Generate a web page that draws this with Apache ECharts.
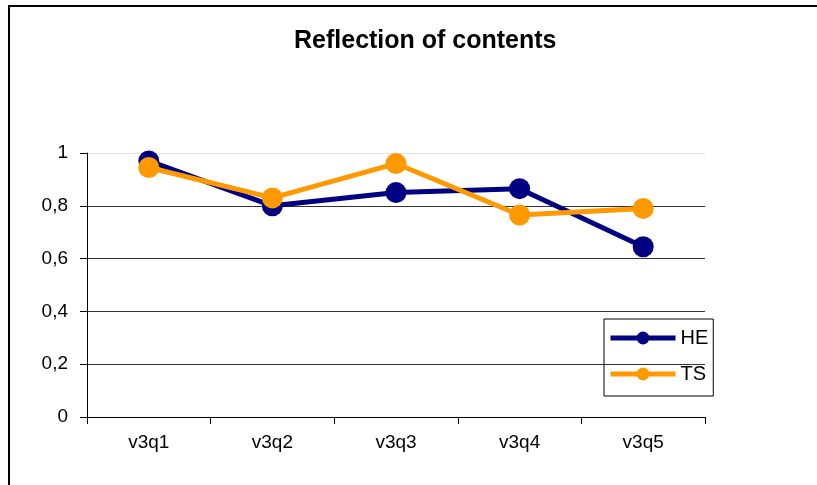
<!DOCTYPE html>
<html>
<head>
<meta charset="utf-8">
<script src="https://cdn.jsdelivr.net/npm/echarts@6/dist/echarts.min.js"></script>
<style>
  html, body { margin: 0; padding: 0; background: #fff; }
  #wrap { position: relative; width: 817px; height: 485px; overflow: hidden; }
  #main { width: 817px; height: 485px; }
  #frame {
    position: absolute; left: 8px; top: 5px; width: 820px; height: 490px;
    border-left: 2px solid #000; border-top: 2px solid #000; pointer-events: none;
  }
</style>
</head>
<body>
<div id="wrap">
  <div id="main"></div>
  <div id="frame"></div>
</div>
<script>
// categories and values
var categories = ['v3q1', 'v3q2', 'v3q3', 'v3q4', 'v3q5'];
var heValues = [0.97, 0.80, 0.85, 0.865, 0.645];
var tsValues = [0.945, 0.83, 0.96, 0.765, 0.79];
var titleText = 'Reflection of contents';

var FONT = "'Liberation Sans', Arial, sans-serif";
var colors = ['#000080', '#FF9900'];

var chartDom = document.getElementById('main');
var myChart = echarts.init(chartDom);

var option = {
    color: colors,
    animation: false,
    title: {
        text: titleText,
        left: 289,
        top: 24,
        textStyle: { fontFamily: FONT, fontSize: 25, fontWeight: 'bold', color: '#000' }
    },
    grid: { left: 87, right: 112, top: 153, bottom: 68 },
    legend: {
        orient: 'vertical',
        left: 604,
        top: 319,
        padding: [9, 5, 12, 4],
        itemWidth: 65,
        itemHeight: 16,
        itemGap: 16,
        borderColor: '#000',
        borderWidth: 1,
        lineStyle: { width: 5 },
        textStyle: { fontFamily: FONT, fontSize: 20, color: '#000' },
        data: ['HE', 'TS']
    },
    xAxis: {
        type: 'category',
        data: categories,
        boundaryGap: true,
        axisLine: { lineStyle: { color: '#000', width: 1 } },
        axisTick: { show: true, length: 7, lineStyle: { color: '#000' } },
        axisLabel: { fontFamily: FONT, fontSize: 19, color: '#000', margin: 16 },
        splitLine: { show: false }
    },
    yAxis: {
        type: 'value',
        min: 0,
        max: 1,
        interval: 0.2,
        axisLine: { show: true, lineStyle: { color: '#000', width: 1 } },
        axisTick: { show: true, length: 7, lineStyle: { color: '#000' } },
        axisLabel: {
            fontFamily: FONT, fontSize: 19, color: '#000', margin: 19,
            formatter: function (v) { return String(Math.round(v * 10) / 10).replace('.', ','); }
        },
        splitLine: {
            show: true,
            lineStyle: { color: ['#333', '#333', '#333', '#333', '#333', '#e4e4e4'], width: 1 }
        }
    },
    series: [
        {
            name: 'HE',
            type: 'line',
            data: heValues,
            symbol: 'circle',
            symbolSize: 21,
            lineStyle: { width: 5, color: colors[0] },
            itemStyle: { color: colors[0] }
        },
        {
            name: 'TS',
            type: 'line',
            data: tsValues,
            symbol: 'circle',
            symbolSize: 21,
            lineStyle: { width: 5, color: colors[1] },
            itemStyle: { color: colors[1] }
        }
    ]
};
myChart.setOption(option);
</script>
</body>
</html>
